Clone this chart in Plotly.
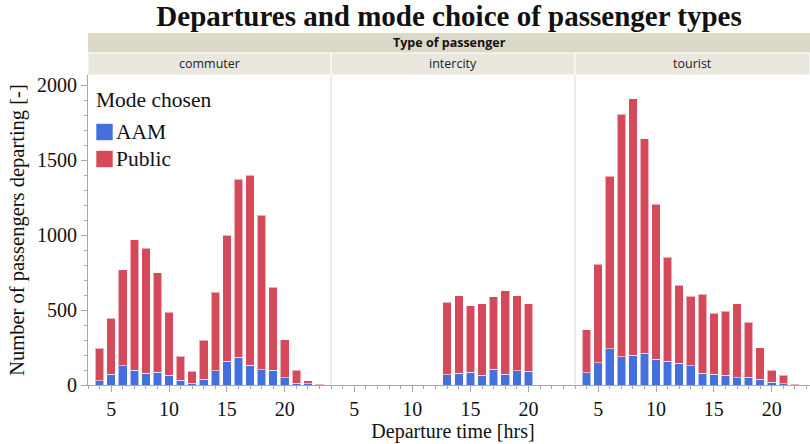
import plotly.graph_objects as go

# Hourly departures by passenger type, split by chosen mode
commuter_hours = list(range(4, 24))
commuter_aam = [29, 71, 129, 100, 80, 84, 64, 31, 11, 38, 96, 158, 184, 131, 102, 98, 49, 11, 7, 1]
commuter_public = [215, 373, 638, 867, 831, 665, 420, 162, 82, 260, 522, 840, 1189, 1267, 1029, 553, 253, 89, 22, 8]

intercity_hours = list(range(13, 21))
intercity_aam = [67, 80, 84, 64, 104, 71, 96, 91]
intercity_public = [484, 516, 445, 478, 483, 558, 500, 451]

tourist_hours = list(range(4, 23))
tourist_aam = [82, 147, 242, 187, 198, 211, 171, 158, 144, 127, 80, 71, 64, 49, 51, 40, 18, 9, 1]
tourist_public = [285, 657, 1151, 1617, 1711, 1431, 1033, 695, 520, 464, 524, 409, 429, 493, 369, 209, 82, 55, 8]

panel_names = ["commuter", "intercity", "tourist"]
modes = ["AAM", "Public"]
mode_colors = {"AAM": "#4470DD", "Public": "#D44A5A"}

panels = [
    (commuter_hours, commuter_aam, commuter_public),
    (intercity_hours, intercity_aam, intercity_public),
    (tourist_hours, tourist_aam, tourist_public),
]

W, H = 810, 444
ML, MR, MT, MB = 88, 0, 75, 59
plot_w = W - ML - MR
plot_h = H - MT - MB
px_per_hr = 243 / 21.0
edges = [88, 331, 575, 810]
domains = [((edges[i] - ML) / plot_w, (edges[i + 1] - ML) / plot_w) for i in range(3)]

serif = "Liberation Serif, Times New Roman, serif"
sans = "Open Sans, Noto Sans, sans-serif"
axis_grey = "#A8A8A8"
ink = "#111111"

fig = go.Figure()

for i, (hours, aam, public) in enumerate(panels):
    xa = "x" if i == 0 else f"x{i + 1}"
    for mode, vals in zip(modes, [aam, public]):
        fig.add_trace(go.Bar(
            x=hours, y=vals, name=mode, xaxis=xa, yaxis="y",
            marker=dict(color=mode_colors[mode], line=dict(color="rgba(255,255,255,0.55)", width=1)),
            width=0.74, showlegend=False,
        ))

xaxis_common = dict(
    showgrid=False, zeroline=False, showline=True, linecolor=axis_grey, linewidth=1,
    ticks="outside", ticklen=6, tickcolor=axis_grey, tickvals=[5, 10, 15, 20],
    tickfont=dict(family=serif, size=20, color=ink),
    minor=dict(dtick=1, tick0=0, ticks="outside", ticklen=3, tickcolor=axis_grey),
    anchor="y",
)

layout = dict(
    width=W, height=H,
    margin=dict(l=ML, r=MR, t=MT, b=MB),
    plot_bgcolor="white", paper_bgcolor="white",
    barmode="stack",
    showlegend=False,
    yaxis=dict(
        range=[0, 2067], showgrid=False, zeroline=False, showline=True, linecolor=axis_grey,
        ticks="outside", ticklen=6, tickcolor=axis_grey, tickvals=[0, 500, 1000, 1500, 2000],
        minor=dict(dtick=100, ticks="outside", ticklen=3, tickcolor=axis_grey),
        tickfont=dict(family=serif, size=20, color=ink),
        title=dict(text="Number of passengers departing [-]", font=dict(family=serif, size=20.5, color=ink), standoff=6),
    ),
    title=dict(
        text="<b>Departures and mode choice of passenger types</b>",
        font=dict(family=serif, size=29, color=ink),
        x=0.5, xref="paper", xanchor="center",
        y=1 - 16 / H, yref="container", yanchor="middle",
    ),
)

ranges = [[3, 24], [3, 24], [3, 3 + (810 - 575) / px_per_hr]]
for i in range(3):
    key = "xaxis" if i == 0 else f"xaxis{i + 1}"
    layout[key] = dict(xaxis_common, domain=list(domains[i]), range=ranges[i])

layout["xaxis2"]["title"] = dict(text="Departure time [hrs]", font=dict(family=serif, size=20, color=ink), standoff=1)

fig.update_layout(**layout)

# Header strips above the panels (paper coordinates from pixel rows)
def paper_y(py):
    return (H - MB - py) / plot_h

def paper_x(px):
    return (px - ML) / plot_w

strip_top = paper_y(33)
strip_mid = paper_y(53)
shapes = [
    dict(type="rect", xref="paper", yref="paper", x0=0, x1=1, y0=strip_mid, y1=strip_top,
         fillcolor="#DCD9C9", line=dict(width=0), layer="below"),
]
annotations = [
    dict(text="<b>Type of passenger</b>", xref="paper", yref="paper", x=0.5, y=(strip_mid + strip_top) / 2,
         xanchor="center", yanchor="middle", showarrow=False,
         font=dict(family=sans, size=12.5, color=ink)),
]
for i, name in enumerate(panel_names):
    d0, d1 = domains[i]
    shapes.append(dict(type="rect", xref="paper", yref="paper", x0=d0, x1=d1, y0=1, y1=strip_mid,
                       fillcolor="#E9E7DE", line=dict(color="#FFFFFF", width=1), layer="below"))
    annotations.append(dict(text=name, xref="paper", yref="paper", x=(d0 + d1) / 2, y=(1 + strip_mid) / 2,
                            xanchor="center", yanchor="middle", showarrow=False,
                            font=dict(family=sans, size=12.5, color="#222")))
    if i > 0:
        shapes.append(dict(type="line", xref="paper", yref="paper", x0=d0, x1=d0, y0=0, y1=1,
                           line=dict(color="#D9D9D9", width=1)))

# Legend: title plus colour swatches for each mode
annotations.append(dict(text="Mode chosen", xref="paper", yref="paper", x=paper_x(94), y=paper_y(100),
                        xanchor="left", yanchor="middle", showarrow=False,
                        font=dict(family=serif, size=21.5, color=ink)))
for k, mode in enumerate(modes):
    cy = 132 + 27 * k
    shapes.append(dict(type="rect", xref="paper", yref="paper",
                       x0=paper_x(96), x1=paper_x(113), y0=paper_y(cy + 8.5), y1=paper_y(cy - 8.5),
                       fillcolor=mode_colors[mode], line=dict(color="rgba(255,255,255,0.6)", width=1)))
    annotations.append(dict(text=mode, xref="paper", yref="paper", x=paper_x(114), y=paper_y(cy),
                            xanchor="left", yanchor="middle", showarrow=False,
                            font=dict(family=serif, size=21.5, color=ink)))

fig.update_layout(shapes=shapes, annotations=annotations)

fig.write_html("out.html")
